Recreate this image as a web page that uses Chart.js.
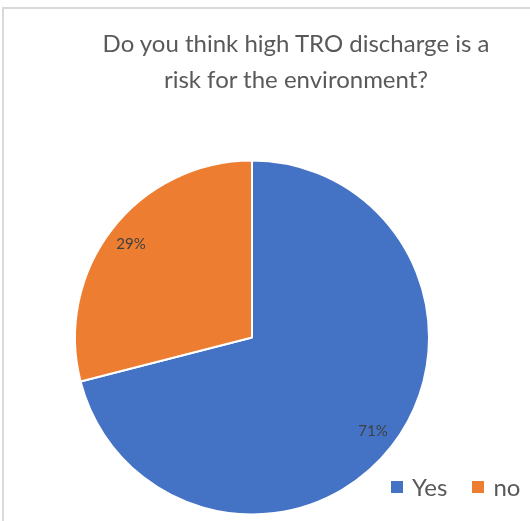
<!DOCTYPE html>
<html>
<head>
<meta charset="utf-8">
<script src="https://cdn.jsdelivr.net/npm/chart.js@4.4.1/dist/chart.umd.min.js"></script>
<style>
  html, body { margin: 0; padding: 0; background: #fff; }
  #wrap { position: relative; width: 530px; height: 521px; overflow: hidden; }
  #frame { position: absolute; left: 2px; top: 7px; right: -2px; bottom: -2px; border: 2px solid #d9d9d9; }
  #chart { position: absolute; left: 0; top: 0; }
  #title { position: absolute; left: 62px; right: 0; top: 25px; text-align: center;
    font-family: Lato, "Open Sans", sans-serif; font-size: 24px; line-height: 36px; color: #595959; }
  #legend { position: absolute; left: 391px; top: 472px; font-family: Lato, "Open Sans", sans-serif;
    font-size: 24px; color: #595959; white-space: nowrap; }
  #legend span.sw { display: inline-block; width: 12px; height: 12px; margin-right: 9px; vertical-align: 3px; }
  #legend span.item { display: inline-block; }
  #legend span.item + span.item { margin-left: 25px; }
</style>
</head>
<body>
<div id="wrap">
  <div id="frame"></div>
  <canvas id="chart" width="530" height="521"></canvas>
  <div id="title">Do you think high TRO discharge is a<br>risk for the environment?</div>
  <div id="legend"></div>
</div>
<script>
const labels = ["Yes", "no"];
const values = [71, 29];
const colors = ["#4472C4", "#ED7D31"];

// percent labels drawn inside each slice
const pctLabels = {
  id: "pctLabels",
  afterDatasetsDraw(chart) {
    const ctx = chart.ctx;
    const meta = chart.getDatasetMeta(0);
    const total = values.reduce((a, b) => a + b, 0);
    ctx.save();
    ctx.font = "15px Lato, 'Open Sans', sans-serif";
    ctx.fillStyle = "#404040";
    ctx.textAlign = "center";
    ctx.textBaseline = "middle";
    meta.data.forEach((arc, i) => {
      const mid = (arc.startAngle + arc.endAngle) / 2;
      const r = arc.outerRadius * 0.865;
      const x = arc.x + Math.cos(mid) * r;
      const y = arc.y + Math.sin(mid) * r;
      ctx.fillText(Math.round(values[i] / total * 100) + "%", x, y);
    });
    ctx.restore();
  }
};

new Chart(document.getElementById("chart"), {
  type: "pie",
  data: {
    labels,
    datasets: [{
      data: values,
      backgroundColor: colors,
      borderColor: "#ffffff",
      borderWidth: 2
    }]
  },
  options: {
    responsive: false,
    animation: false,
    layout: { padding: { left: 74, right: 100, top: 159, bottom: 5 } },
    plugins: {
      legend: { display: false },
      tooltip: { enabled: false },
      title: { display: false }
    }
  },
  plugins: [pctLabels]
});

const legend = document.getElementById("legend");
legend.innerHTML = labels.map((l, i) =>
  `<span class="item"><span class="sw" style="background:${colors[i]}"></span>${l}</span>`
).join("");
</script>
</body>
</html>
